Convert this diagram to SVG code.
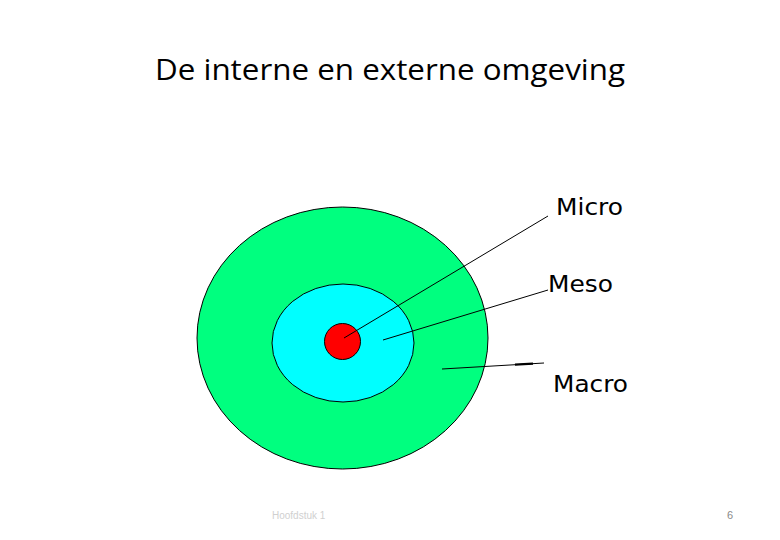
<svg xmlns="http://www.w3.org/2000/svg" width="780" height="540" viewBox="0 0 780 540">
<style>
.ring{stroke:#000;stroke-width:1}
.lbl{font-family:"DejaVu Sans",Verdana,sans-serif;font-size:23px;fill:#000}
.lead{stroke:#000;stroke-width:1;fill:none}
</style>
<rect width="780" height="540" fill="#fff"/>
<text x="390" y="80" text-anchor="middle" font-family="'Open Sans','Liberation Sans',sans-serif" font-size="29" fill="#000" textLength="470" lengthAdjust="spacingAndGlyphs">De interne en externe omgeving</text>
<g id="macro"><ellipse class="ring" cx="342.5" cy="338" rx="145.5" ry="131" fill="#00FF7F"/></g>
<g id="meso"><ellipse class="ring" cx="343" cy="343" rx="71" ry="59" fill="#00FFFF"/></g>
<g id="micro"><circle class="ring" cx="342.5" cy="341.5" r="18" fill="#FF0000"/></g>
<g id="connectors">
<line class="lead" x1="344" y1="338" x2="548" y2="216"/>
<line class="lead" x1="383" y1="340" x2="548" y2="290"/>
<line class="lead" x1="442" y1="369" x2="544" y2="363"/>
<line x1="515" y1="364.6" x2="533" y2="363.6" stroke="#000" stroke-width="2.2"/>
</g>
<g id="labels">
<text class="lbl" x="556" y="215" textLength="67" lengthAdjust="spacingAndGlyphs">Micro</text>
<text class="lbl" x="548" y="292" textLength="65" lengthAdjust="spacingAndGlyphs">Meso</text>
<text class="lbl" x="553" y="392" textLength="75" lengthAdjust="spacingAndGlyphs">Macro</text>
</g>
<text x="272" y="519" font-family="'Liberation Sans',sans-serif" font-size="10" fill="#d0d0d0">Hoofdstuk 1</text>
<text x="730" y="519" font-family="'Liberation Sans',sans-serif" font-size="11" fill="#8a8a8a" text-anchor="middle">6</text>
</svg>
